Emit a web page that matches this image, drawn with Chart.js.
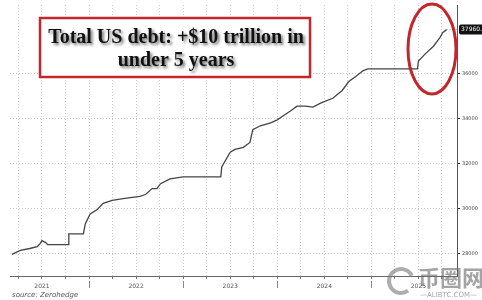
<!DOCTYPE html>
<html>
<head>
<meta charset="utf-8">
<script src="https://cdn.jsdelivr.net/npm/chart.js@4.4.0/dist/chart.umd.min.js"></script>
<style>
  body { margin: 0; background: #fff; }
  canvas { display: block; }
</style>
</head>
<body>
<canvas id="myChart" width="482" height="300"></canvas>
<script>
// time as decimal year, debt in $bn
var dates = [2021.18, 2021.27, 2021.37, 2021.45, 2021.48, 2021.50, 2021.54, 2021.56, 2021.78, 2021.785,
  2021.94, 2021.96, 2022.01, 2022.09, 2022.15, 2022.245, 2022.38, 2022.54, 2022.60, 2022.67,
  2022.72, 2022.76, 2022.86, 2023.00, 2023.40, 2023.41, 2023.50, 2023.55, 2023.64, 2023.71,
  2023.74, 2023.82, 2023.93, 2024.00, 2024.06, 2024.14, 2024.21, 2024.30, 2024.38, 2024.46,
  2024.59, 2024.69, 2024.76, 2024.83, 2024.91, 2024.96, 2025.49, 2025.50, 2025.57, 2025.66,
  2025.73, 2025.76, 2025.80];
var debt = [27956, 28131, 28219, 28306, 28437, 28568, 28480, 28393, 28393, 28874,
  28874, 29311, 29748, 29967, 30229, 30360, 30447, 30535, 30622, 30884,
  30884, 31103, 31321, 31409, 31409, 31846, 32501, 32632, 32720, 32938,
  33506, 33681, 33812, 33943, 34118, 34337, 34555, 34555, 34511, 34686,
  34905, 35254, 35648, 35866, 36128, 36216, 36216, 36565, 36871, 37221,
  37614, 37833, 37960.2];
var yTicks = [28000, 30000, 32000, 34000, 36000];
var years = ['2021', '2022', '2023', '2024', '2025'];
var firstYear = 2021;

var quarterTicks = [];
for (var q = 2021.25; q < 2025.9; q += 0.25) quarterTicks.push({value: q});

var points = dates.map(function(d, i){ return {x: d, y: debt[i]}; });

var extras = {
  id: 'extras',
  afterDraw: function(chart) {
    var ctx = chart.ctx, xs = chart.scales.x, ys = chart.scales.y, area = chart.chartArea;
    ctx.save();
    // year separators under the axis
    ctx.strokeStyle = '#888';
    ctx.lineWidth = 1;
    for (var y = firstYear + 1; y <= firstYear + years.length - 1; y++) {
      var px = Math.round(xs.getPixelForValue(y)) + 0.5;
      ctx.beginPath(); ctx.moveTo(px, area.bottom + 5); ctx.lineTo(px, area.bottom + 12); ctx.stroke();
    }
    // last value label
    var last = debt[debt.length - 1];
    var ly = ys.getPixelForValue(last);
    ctx.setLineDash([1, 2]);
    ctx.strokeStyle = '#999';
    ctx.beginPath(); ctx.moveTo(xs.getPixelForValue(dates[dates.length - 1]), ly); ctx.lineTo(area.right, ly); ctx.stroke();
    ctx.setLineDash([]);
    ctx.fillStyle = '#111';
    ctx.beginPath();
    ctx.roundRect(area.right + 2, ly - 5, 30, 10, 2);
    ctx.fill();
    ctx.fillStyle = '#fff';
    ctx.font = '6px "DejaVu Sans"';
    ctx.textBaseline = 'middle';
    ctx.textAlign = 'left';
    ctx.fillText(last.toFixed(1), area.right + 4, ly);
    // red ellipse
    ctx.strokeStyle = '#c1272d';
    ctx.lineWidth = 3;
    ctx.beginPath();
    ctx.ellipse(432, 49, 24, 45, 0, 0, Math.PI * 2);
    ctx.stroke();
    // title box
    ctx.fillStyle = '#fff';
    ctx.fillRect(40, 18, 270, 59);
    ctx.lineWidth = 2.5;
    ctx.strokeRect(40, 18, 270, 59);
    ctx.font = 'bold 20px "Liberation Serif"';
    ctx.textAlign = 'center';
    ctx.fillStyle = '#111';
    ctx.shadowColor = 'rgba(0,0,0,0.55)';
    ctx.shadowBlur = 3;
    ctx.shadowOffsetX = 2;
    ctx.shadowOffsetY = 2;
    ctx.fillText('Total US debt: +$10 trillion in', 176, 38);
    ctx.fillText('under 5 years', 176, 61);
    ctx.shadowColor = 'transparent';
    // source
    ctx.font = 'italic 7px "DejaVu Sans"';
    ctx.textAlign = 'left';
    ctx.fillStyle = '#555';
    ctx.fillText('source: Zerohedge', 12, 295);
    // watermark
    ctx.globalAlpha = 0.6;
    ctx.strokeStyle = '#777';
    ctx.lineWidth = 4;
    ctx.beginPath(); ctx.arc(401, 281, 12, Math.PI * 0.3, Math.PI * 1.85); ctx.stroke();
    ctx.fillStyle = '#666';
    ctx.font = 'bold 22px "Noto Sans CJK SC"';
    ctx.fillText('币圈网', 418, 278);
    ctx.font = '7px "DejaVu Sans"';
    ctx.fillText('—ALIBTC.COM—', 420, 295);
    ctx.restore();
  }
};

new Chart(document.getElementById('myChart'), {
  type: 'line',
  data: {
    datasets: [{
      data: points,
      borderColor: '#444',
      borderWidth: 1.3,
      pointRadius: 0,
      tension: 0
    }]
  },
  options: {
    responsive: false,
    animation: false,
    layout: {padding: {left: 10, top: 0, right: 0, bottom: 0}},
    plugins: {legend: {display: false}, tooltip: {enabled: false}},
    scales: {
      x: {
        type: 'linear',
        min: 2021.16,
        max: 2025.91,
        afterBuildTicks: function(s){ s.ticks = quarterTicks.slice(); },
        afterFit: function(s){ s.height = 24; },
        grid: {color: '#c8c8c8', tickLength: 3, tickColor: '#777'},
        border: {color: '#666', dash: [1, 2]},
        ticks: {
          autoSkip: false,
          maxRotation: 0,
          padding: 4,
          color: '#555',
          font: {size: 6, family: 'DejaVu Sans'},
          callback: function(v){
            var f = Math.round((v % 1) * 100);
            return f === 50 ? years[Math.floor(v) - firstYear] : '';
          }
        }
      },
      y: {
        position: 'right',
        min: 26995,
        max: 39056,
        afterBuildTicks: function(s){ s.ticks = yTicks.map(function(v){ return {value: v}; }); },
        afterFit: function(s){ s.width = 25; },
        grid: {color: '#c8c8c8', tickLength: 3, tickColor: '#222'},
        border: {color: '#555', dash: [1, 2]},
        ticks: {
          padding: 2,
          color: '#444',
          font: {size: 5, family: 'DejaVu Sans'},
          callback: function(v){ return String(v); }
        }
      }
    }
  },
  plugins: [extras]
});
</script>
</body>
</html>
